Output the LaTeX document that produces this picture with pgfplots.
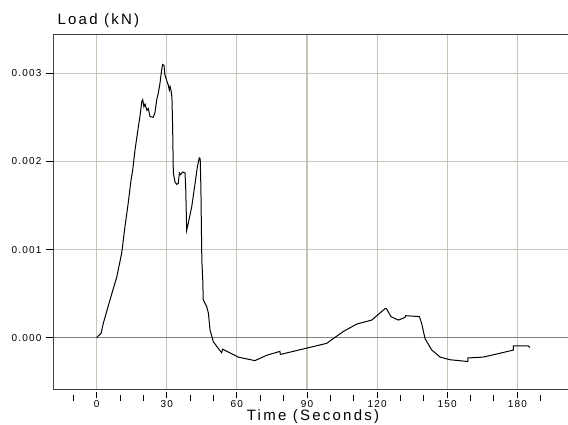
\documentclass[border=0pt]{standalone}
\usepackage{fontspec}
\setmainfont{Liberation Sans}
\usepackage{pgfplots}
\pgfplotsset{compat=1.18}
\definecolor{gridc}{RGB}{200,196,184}
\newfontfamily\lblfont[LetterSpace=15]{Liberation Sans}
\newfontfamily\tickfont[LetterSpace=12]{Liberation Sans}
\begin{document}
\begin{tikzpicture}[x=1pt,y=1pt]
\useasboundingbox (0,0) rectangle (568,-424);
\begin{axis}[
  at={(54pt,-389pt)}, anchor=south west,
  scale only axis, width=514pt, height=355pt,
  xmin=-18.27, xmax=201.7, ymin=-0.000582, ymax=0.003446,
  clip=false,
  scaled y ticks=false, scaled x ticks=false,
  axis line style={draw=none},
  xtick={0,30,...,180}, xticklabels={0,30,60,90,120,150,180},
  minor xtick={-10,10,20,40,50,70,80,100,110,130,140,160,170,190},
  ytick={0.001,0.002,0.003}, yticklabels={0.001,0.002,0.003},
  extra y ticks={0}, extra y tick labels={0.000},
  extra y tick style={major grid style={black!50, line width=1pt}},
  xmajorgrids, ymajorgrids,
  major grid style={gridc, line width=1.1pt},
  tick align=outside,
  xtick pos=bottom, ytick pos=left,
  major tick length=8pt, minor tick length=6pt,
  xtick style={yshift=-3pt, /pgfplots/major tick length=6pt, black, line width=0.9pt},
  ytick style={black, line width=0.9pt},
  every minor tick/.append style={yshift=-3pt, black, line width=0.9pt},
  ticklabel style={font=\tickfont\fontsize{10}{11}\selectfont},
  xticklabel style={yshift=0pt},
  yticklabel style={xshift=-1pt},
  every axis y label/.style={at={(rel axis cs:0,1)}, anchor=base west, yshift=10pt},
  ylabel={\lblfont\fontsize{15}{18}\selectfont Load (kN)},
  every axis x label/.style={at={(rel axis cs:0.5,0)}, anchor=base, yshift=-31pt, xshift=2pt},
  xlabel={\lblfont\fontsize{15}{18}\selectfont Time (Seconds)},
]
\addplot[black, line width=1pt] table[row sep=\\] {
t v\\
0.0 0.0\\
0.3 0.00001\\
1.9 0.00005\\
2.8 0.00016\\
5.7 0.00043\\
8.6 0.00069\\
10.7 0.00096\\
11.4 0.00111\\
12.1 0.00126\\
13.5 0.00153\\
14.7 0.00179\\
15.4 0.0019\\
16.4 0.00213\\
17.6 0.00235\\
18.5 0.00251\\
19.3 0.00268\\
19.7 0.00270\\
20.2 0.00262\\
20.7 0.00265\\
21.5 0.00258\\
22.1 0.00260\\
22.8 0.00251\\
24.2 0.0025\\
24.9 0.00255\\
25.7 0.0027\\
26.4 0.00278\\
27.1 0.00289\\
27.6 0.00300\\
28.2 0.00310\\
28.8 0.00309\\
29.2 0.00298\\
29.7 0.00294\\
30.2 0.00290\\
30.6 0.00287\\
31.1 0.00281\\
31.4 0.00285\\
31.8 0.00281\\
32.2 0.00273\\
32.5 0.00239\\
32.8 0.00187\\
33.5 0.00177\\
34.2 0.00174\\
34.9 0.00175\\
35.4 0.00187\\
35.9 0.00185\\
36.8 0.00188\\
37.8 0.00187\\
38.1 0.00170\\
38.5 0.00122\\
39.2 0.00130\\
40.7 0.00149\\
42.1 0.00175\\
43.1 0.00194\\
43.9 0.00204\\
44.3 0.00203\\
44.6 0.00170\\
44.8 0.00126\\
45.0 0.00088\\
45.4 0.00065\\
45.6 0.00043\\
47.1 0.00035\\
47.8 0.00028\\
48.5 0.00009\\
49.9 -0.000045\\
52.0 -0.00012\\
53.5 -0.00017\\
53.9 -0.00013\\
60.6 -0.00022\\
67.7 -0.00026\\
72.7 -0.00020\\
78.4 -0.000155\\
78.6 -0.00019\\
98.4 -0.000064\\
105.5 0.00007\\
111.3 0.000155\\
117.7 0.00020\\
121.2 0.00028\\
123.4 0.00033\\
124.0 0.00033\\
125.9 0.00024\\
129.1 0.00020\\
131.9 0.00023\\
132.2 0.00025\\
138.1 0.00024\\
139.1 0.00016\\
140.5 -0.00001\\
143.4 -0.00014\\
147.0 -0.00022\\
151.2 -0.00025\\
158.8 -0.00027\\
158.8 -0.00023\\
165.4 -0.00022\\
171.2 -0.000185\\
178.3 -0.00014\\
178.3 -0.000094\\
184.7 -0.000094\\
185.4 -0.00011\\
};
\draw[black!75, line width=1pt] (rel axis cs:1,1) -- (rel axis cs:0,1) -- (rel axis cs:0,0) -- (rel axis cs:1,0);
\end{axis}
\end{tikzpicture}
\end{document}
